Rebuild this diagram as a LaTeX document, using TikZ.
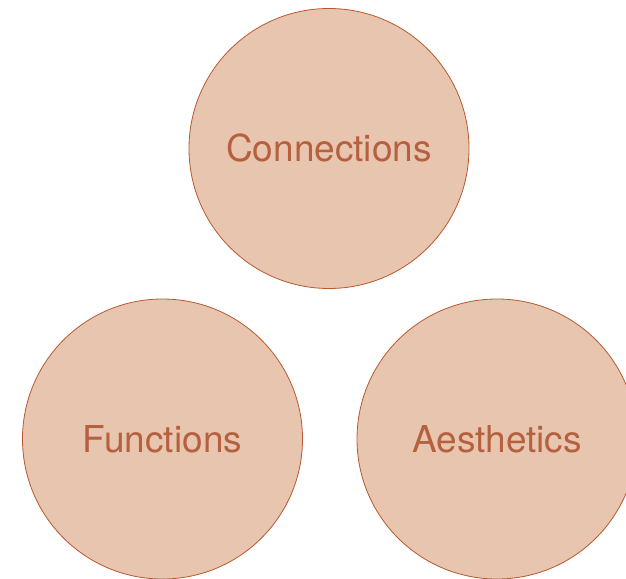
\documentclass[tikz,border=0pt]{standalone}
\usepackage{fontspec}
\setmainfont{TeX Gyre Heros}
\usepackage{xcolor}
\definecolor{peach}{HTML}{E7C5AF}
\definecolor{rust}{HTML}{B8582F}
\definecolor{rusttext}{HTML}{B6603F}

\begin{document}
\begin{tikzpicture}[x=1pt, y=-1pt,
        bubble/.style = {circle, draw=rust, fill=peach, line width=0.8pt,
            inner sep=0pt, minimum size=280pt, text=rusttext,
            font=\fontsize{37}{44}\selectfont},
    ]
        \useasboundingbox (0,0) rectangle (626,578);
        \node[bubble] (conn) at (329,148.5) {Connections};
        \node[bubble] (func) at (162.5,439) {Functions};
        \node[bubble] (aesth) at (497,439) {Aesthetics};
    \end{tikzpicture}
\end{document}
